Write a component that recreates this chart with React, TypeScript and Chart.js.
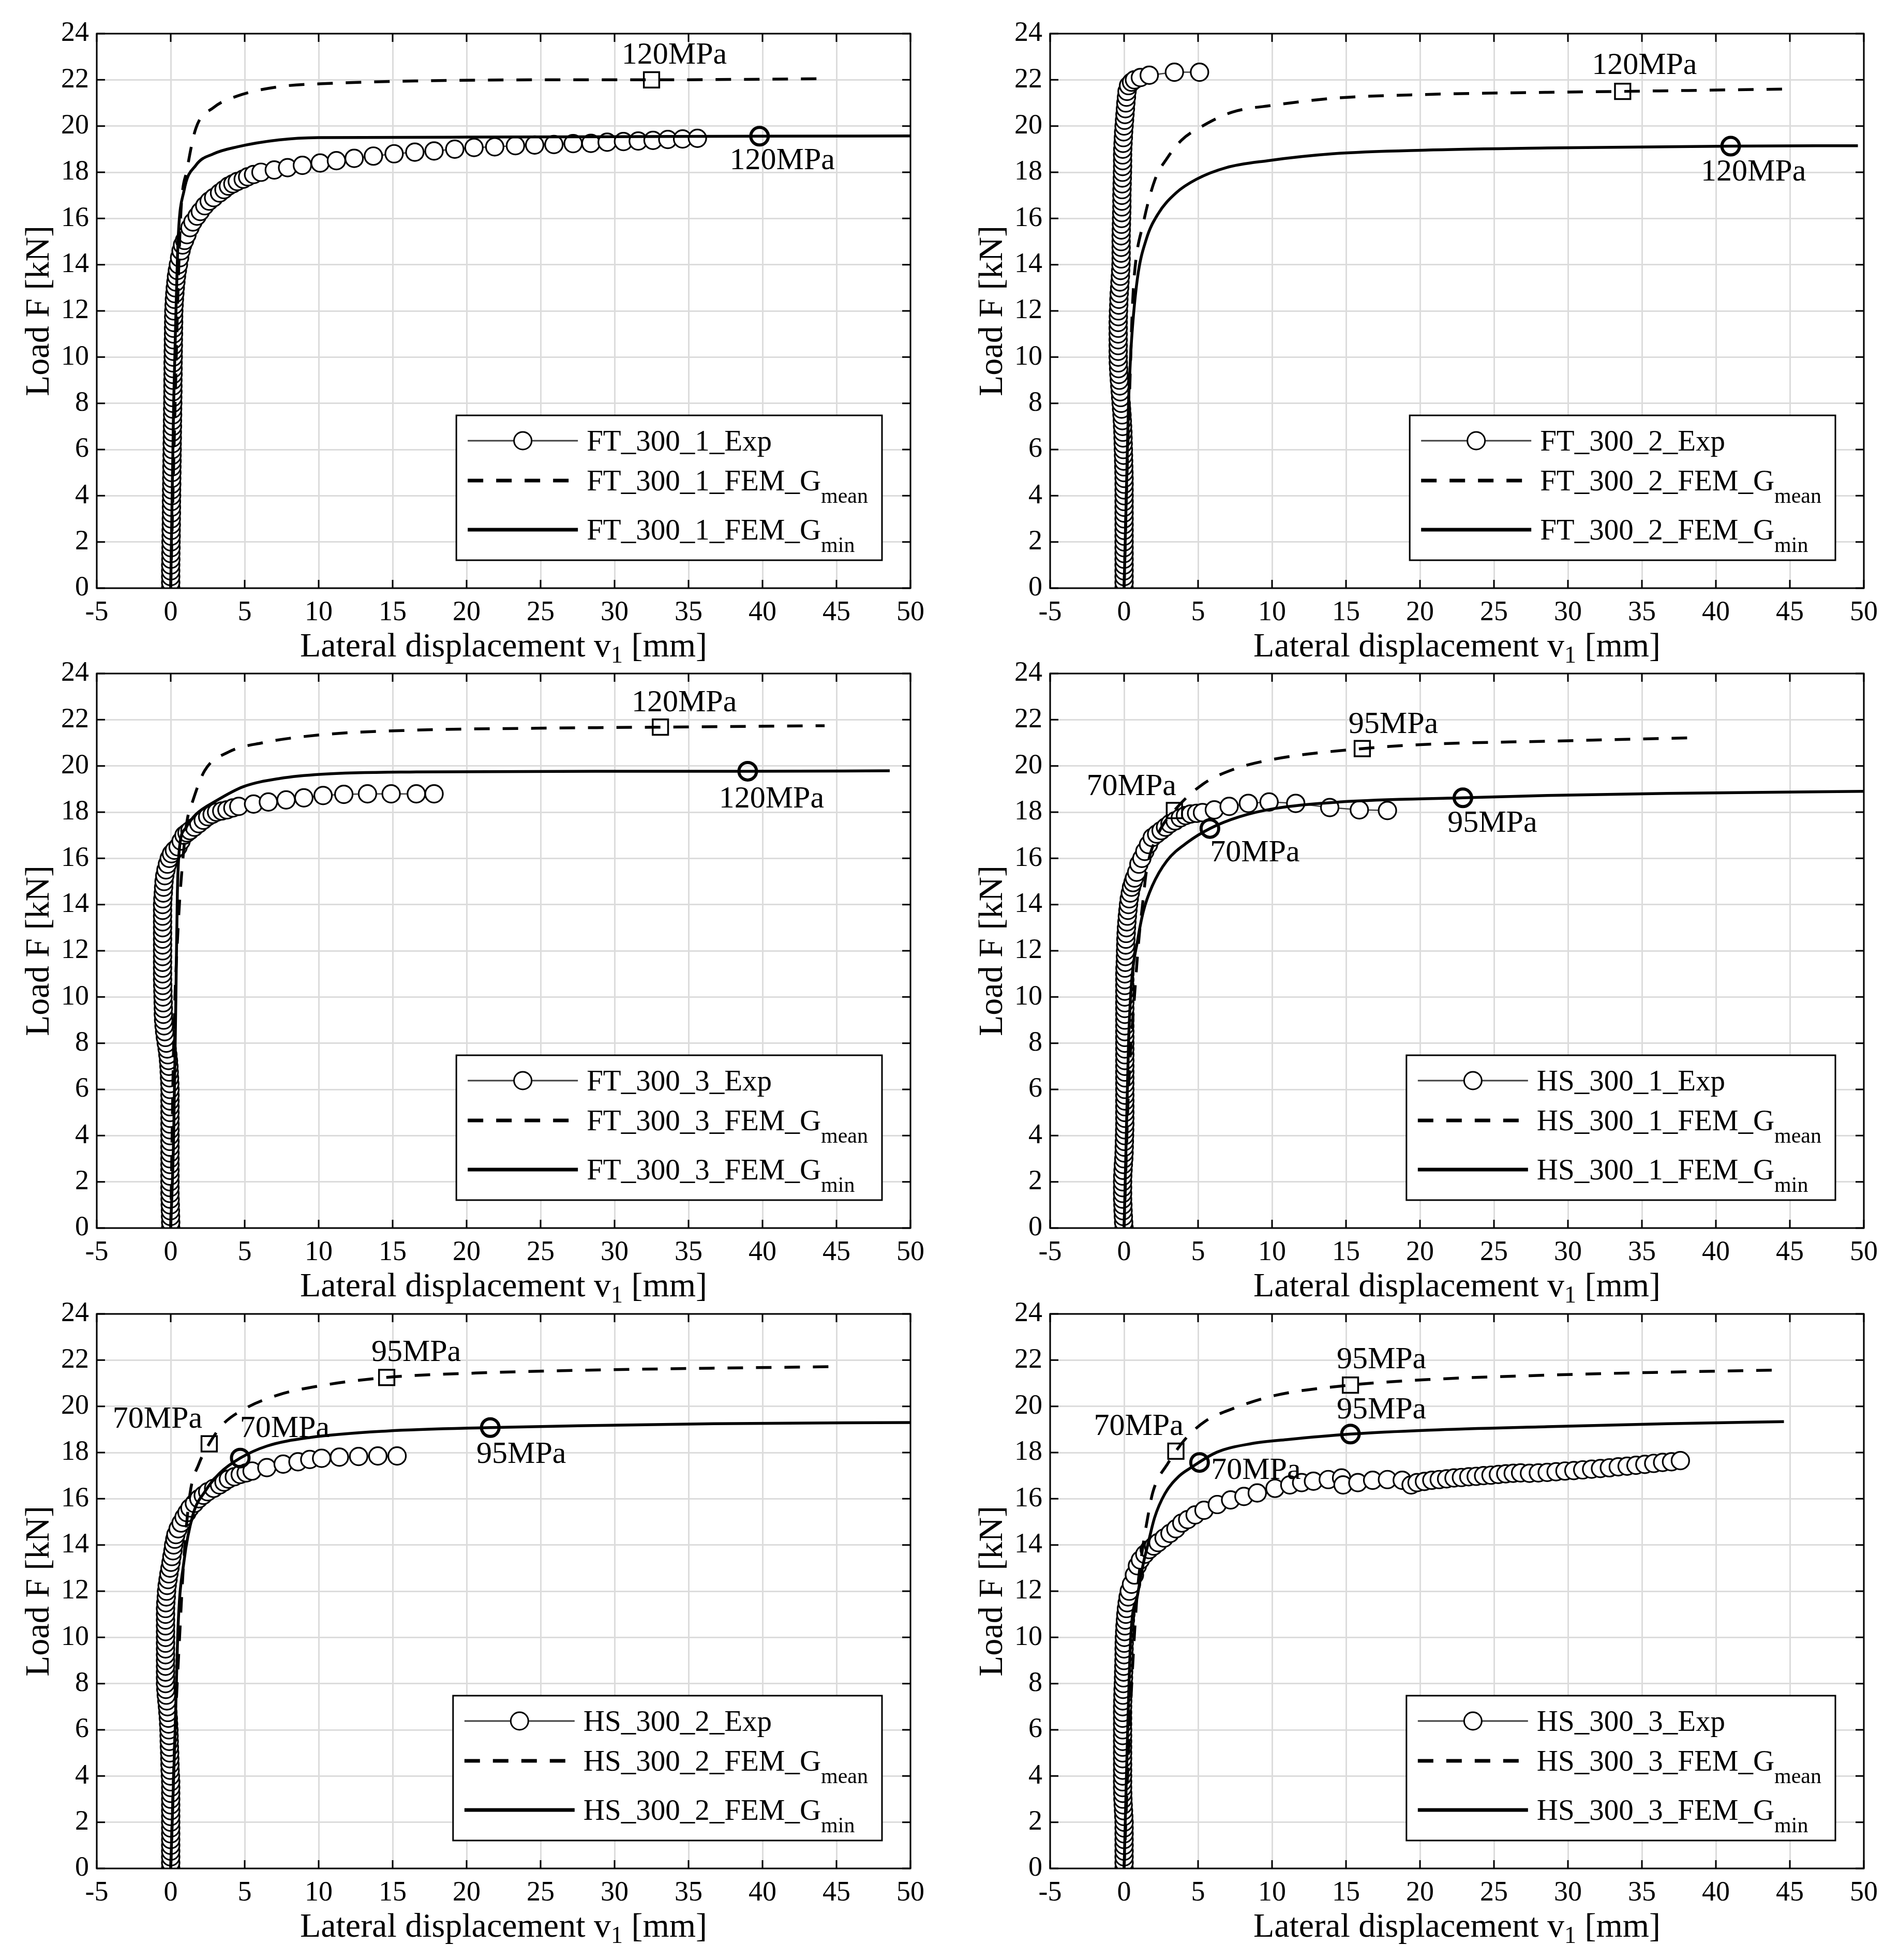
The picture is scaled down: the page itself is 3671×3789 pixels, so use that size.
import { useEffect, useRef } from 'react';
import { Chart, ChartConfiguration, Plugin, registerables } from 'chart.js';

Chart.register(...registerables);

type Pt = [number, number];

const SERIF = '"Liberation Serif", "Times New Roman", serif';

// axis ranges and tick spacing, shared by all six panels
const xRange: Pt = [-5, 50];
const yRange: Pt = [0, 24];
const xStep = 5;
const yStep = 2;

// ---------- FT_300_1 ----------
const ft1Exp: Pt[] = [
  [0, 0], [0, 0.25], [0, 0.5], [0, 0.75], [0, 1], [0.01, 1.25], [0.01, 1.5], [0.02, 1.75], [0.02, 2],
  [0.03, 2.25], [0.03, 2.5], [0.04, 2.75], [0.04, 3], [0.05, 3.25], [0.05, 3.5], [0.05, 3.75], [0.06, 4],
  [0.06, 4.25], [0.07, 4.5], [0.07, 4.75], [0.08, 5], [0.08, 5.25], [0.09, 5.5], [0.09, 5.75], [0.1, 6],
  [0.1, 6.25], [0.11, 6.5], [0.11, 6.75], [0.12, 7], [0.12, 7.25], [0.13, 7.5], [0.13, 7.75], [0.14, 8],
  [0.14, 8.25], [0.15, 8.5], [0.15, 8.75], [0.15, 9], [0.16, 9.25], [0.16, 9.5], [0.16, 9.75], [0.17, 10],
  [0.17, 10.25], [0.18, 10.5], [0.18, 10.75], [0.19, 11], [0.19, 11.25], [0.2, 11.5], [0.2, 11.75], [0.21, 12],
  [0.23, 12.25], [0.25, 12.5], [0.28, 12.75], [0.31, 13], [0.35, 13.25], [0.39, 13.5], [0.45, 13.75], [0.52, 14],
  [0.6, 14.3], [0.7, 14.6], [0.8, 14.85], [0.94, 15.05], [1.1, 15.3], [1.3, 15.6], [1.5, 15.85], [1.78, 16.1],
  [2.0, 16.3], [2.3, 16.55], [2.6, 16.75], [2.9, 16.9], [3.3, 17.1], [3.6, 17.25], [3.9, 17.4], [4.2, 17.5],
  [4.5, 17.6], [4.9, 17.7], [5.2, 17.8], [5.6, 17.9], [6.1, 18.0], [7.0, 18.1], [7.9, 18.2], [8.9, 18.3],
  [10.1, 18.4], [11.2, 18.5], [12.4, 18.6], [13.7, 18.7], [15.1, 18.8], [16.5, 18.87], [17.8, 18.92],
  [19.2, 19.0], [20.5, 19.07], [21.9, 19.1], [23.3, 19.15], [24.6, 19.18], [25.9, 19.2], [27.2, 19.24],
  [28.4, 19.25], [29.5, 19.3], [30.6, 19.33], [31.6, 19.35], [32.6, 19.38], [33.6, 19.42], [34.6, 19.44],
  [35.6, 19.47],
];
const ft1Mean: Pt[] = [
  [0, 0], [0.3, 8], [0.5, 13], [0.7, 16.4], [1.1, 18.1], [1.7, 19.9], [2.9, 20.8], [4.5, 21.3], [7.3, 21.7],
  [10.9, 21.85], [16.5, 21.95], [25, 22.0], [32.5, 22.0], [44.3, 22.05],
];
const ft1Min: Pt[] = [
  [0, 0], [0.2, 8], [0.4, 13], [0.5, 15.1], [0.9, 17.2], [1.7, 18.3], [2.9, 18.8], [4.5, 19.1], [7.3, 19.4],
  [10, 19.5], [20, 19.52], [30, 19.54], [39.8, 19.56], [50, 19.57],
];
const ft1MeanMarks: Pt[] = [[32.5, 22.0]];
const ft1MinMarks: Pt[] = [[39.8, 19.56]];

// ---------- FT_300_2 ----------
const ft2Exp: Pt[] = [
  [0, 0], [0, 0.25], [0, 0.5], [0, 0.75], [0, 1], [0, 1.25], [0, 1.5], [0, 1.75], [0, 2], [0, 2.25], [0, 2.5],
  [0, 2.75], [0, 3], [0, 3.25], [0, 3.5], [0, 3.75], [0, 4], [0, 4.25], [0, 4.5], [0, 4.75], [-0.01, 5],
  [-0.02, 5.25], [-0.03, 5.5], [-0.04, 5.75], [-0.05, 6], [-0.06, 6.25], [-0.07, 6.5], [-0.08, 6.75], [-0.1, 7],
  [-0.12, 7.25], [-0.14, 7.5], [-0.17, 7.75], [-0.2, 8], [-0.23, 8.25], [-0.26, 8.5], [-0.29, 8.75], [-0.32, 9],
  [-0.35, 9.25], [-0.37, 9.5], [-0.39, 9.75], [-0.4, 10], [-0.4, 10.25], [-0.4, 10.5], [-0.4, 10.75], [-0.4, 11],
  [-0.4, 11.25], [-0.4, 11.5], [-0.39, 11.75], [-0.38, 12], [-0.36, 12.25], [-0.35, 12.5], [-0.33, 12.75],
  [-0.3, 13], [-0.28, 13.25], [-0.25, 13.5], [-0.23, 13.75], [-0.21, 14], [-0.2, 14.25], [-0.2, 14.5],
  [-0.2, 14.75], [-0.2, 15], [-0.2, 15.25], [-0.19, 15.5], [-0.18, 15.75], [-0.17, 16], [-0.16, 16.25],
  [-0.15, 16.5], [-0.15, 16.75], [-0.15, 17], [-0.14, 17.25], [-0.13, 17.5], [-0.12, 17.75], [-0.11, 18],
  [-0.1, 18.25], [-0.1, 18.5], [-0.1, 18.75], [-0.09, 19], [-0.07, 19.25], [-0.05, 19.5], [-0.03, 19.75],
  [0, 20], [0.03, 20.25], [0.06, 20.5], [0.09, 20.75], [0.12, 21], [0.16, 21.25], [0.2, 21.5], [0.3, 21.75],
  [0.5, 21.9], [0.7, 22.0], [1.1, 22.1], [1.7, 22.2], [3.4, 22.33], [5.1, 22.33],
];
const ft2Mean: Pt[] = [
  [0, 0], [0.2, 5], [0.4, 9], [0.55, 12], [0.7, 13.6], [1.3, 15.8], [2.1, 17.7], [2.9, 18.6], [3.9, 19.4],
  [5.3, 20.0], [7.3, 20.6], [10.1, 20.9], [14.1, 21.2], [20.6, 21.37], [28.6, 21.46], [33.7, 21.5], [44.6, 21.6],
];
const ft2Min: Pt[] = [
  [0, 0], [0.15, 4], [0.3, 8], [0.4, 9.5], [0.5, 10.7], [0.9, 13.4], [1.5, 15.1], [2.3, 16.2], [3.5, 17.1],
  [4.9, 17.7], [6.9, 18.2], [9.7, 18.5], [14.1, 18.8], [20.6, 18.96], [28.6, 19.05], [41, 19.13], [49.6, 19.15],
];
const ft2MeanMarks: Pt[] = [[33.7, 21.5]];
const ft2MinMarks: Pt[] = [[41.0, 19.13]];

// ---------- FT_300_3 ----------
const ft3Exp: Pt[] = [
  [0, 0], [0, 0.25], [-0.01, 0.5], [-0.02, 0.75], [-0.03, 1], [-0.04, 1.25], [-0.05, 1.5], [-0.05, 1.75],
  [-0.05, 2], [-0.05, 2.25], [-0.05, 2.5], [-0.05, 2.75], [-0.05, 3], [-0.05, 3.25], [-0.05, 3.5], [-0.05, 3.75],
  [-0.05, 4], [-0.05, 4.25], [-0.05, 4.5], [-0.05, 4.75], [-0.05, 5], [-0.05, 5.25], [-0.05, 5.5], [-0.05, 5.75],
  [-0.05, 6], [-0.06, 6.25], [-0.08, 6.5], [-0.1, 6.75], [-0.12, 7], [-0.15, 7.25], [-0.19, 7.5], [-0.24, 7.75],
  [-0.3, 8], [-0.36, 8.25], [-0.41, 8.5], [-0.45, 8.75], [-0.48, 9], [-0.5, 9.25], [-0.5, 9.5], [-0.51, 9.75],
  [-0.52, 10], [-0.53, 10.25], [-0.54, 10.5], [-0.55, 10.75], [-0.55, 11], [-0.55, 11.25], [-0.55, 11.5],
  [-0.55, 11.75], [-0.55, 12], [-0.55, 12.25], [-0.55, 12.5], [-0.55, 12.75], [-0.55, 13], [-0.55, 13.25],
  [-0.55, 13.5], [-0.55, 13.75], [-0.55, 14], [-0.53, 14.25], [-0.5, 14.5], [-0.48, 14.75], [-0.45, 15],
  [-0.4, 15.25], [-0.32, 15.5], [-0.22, 15.75], [-0.1, 16], [0.05, 16.2], [0.25, 16.35], [0.5, 16.5],
  [0.7, 16.75], [0.9, 17.0], [1.1, 17.1], [1.3, 17.2], [1.6, 17.35], [1.9, 17.5], [2.2, 17.65], [2.5, 17.8],
  [2.8, 17.9], [3.1, 18.0], [3.45, 18.05], [3.8, 18.1], [4.2, 18.18], [4.6, 18.25], [5.6, 18.35], [6.6, 18.44],
  [7.8, 18.53], [9.0, 18.62], [10.3, 18.72], [11.7, 18.77], [13.3, 18.79], [14.9, 18.79], [16.6, 18.79],
  [17.8, 18.79],
];
const ft3Mean: Pt[] = [
  [0, 0], [0.2, 8], [0.5, 13], [0.8, 15.8], [1.1, 17.6], [1.5, 18.5], [2.3, 19.8], [3.9, 20.6], [6.2, 21.0],
  [10.2, 21.35], [16.6, 21.55], [24.7, 21.63], [33.1, 21.68], [44.2, 21.74],
];
const ft3Min: Pt[] = [
  [0, 0], [0.2, 4], [0.35, 10], [0.45, 14.5], [0.6, 16.5], [1.0, 17.3], [1.7, 17.9], [3.1, 18.5], [4.9, 19.1],
  [7.4, 19.46], [10.2, 19.64], [16.6, 19.74], [28.7, 19.77], [39, 19.77], [48.6, 19.79],
];
const ft3MeanMarks: Pt[] = [[33.1, 21.68]];
const ft3MinMarks: Pt[] = [[39.0, 19.77]];

// ---------- HS_300_1 ----------
const hs1Exp: Pt[] = [
  [0, 0], [-0.03, 0.25], [-0.05, 0.5], [-0.07, 0.75], [-0.08, 1], [-0.1, 1.25], [-0.1, 1.5], [-0.1, 1.75],
  [-0.1, 2], [-0.09, 2.25], [-0.07, 2.5], [-0.05, 2.75], [-0.02, 3], [0, 3.25], [0.01, 3.5], [0.02, 3.75],
  [0.03, 4], [0.04, 4.25], [0.05, 4.5], [0.05, 4.75], [0.05, 5], [0.05, 5.25], [0.05, 5.5], [0.05, 5.75],
  [0.05, 6], [0.05, 6.25], [0.05, 6.5], [0.05, 6.75], [0.05, 7], [0.05, 7.25], [0.05, 7.5], [0.05, 7.75],
  [0.05, 8], [0.05, 8.25], [0.05, 8.5], [0.05, 8.75], [0.05, 9], [0.05, 9.25], [0.05, 9.5], [0.05, 9.75],
  [0.05, 10], [0.05, 10.25], [0.05, 10.5], [0.05, 10.75], [0.05, 11], [0.06, 11.25], [0.08, 11.5],
  [0.09, 11.75], [0.1, 12], [0.11, 12.25], [0.12, 12.5], [0.14, 12.75], [0.16, 13], [0.19, 13.25],
  [0.22, 13.5], [0.26, 13.75], [0.3, 14], [0.35, 14.25], [0.42, 14.5], [0.5, 14.75], [0.6, 14.95],
  [0.7, 15.15], [0.85, 15.4], [1.0, 15.75], [1.2, 16.0], [1.4, 16.3], [1.65, 16.6], [1.9, 16.9], [2.2, 17.05],
  [2.5, 17.2], [2.8, 17.35], [3.1, 17.5], [3.45, 17.62], [3.8, 17.75], [4.15, 17.85], [4.5, 17.92],
  [4.9, 17.95], [5.3, 17.98], [6.1, 18.1], [7.1, 18.25], [8.4, 18.38], [9.8, 18.44], [11.6, 18.38],
  [13.9, 18.2], [15.9, 18.1], [17.8, 18.07],
];
const hs1Mean: Pt[] = [
  [0, 0], [0.3, 6], [0.7, 10], [1.0, 12.5], [1.3, 14.3], [1.5, 15.4], [2.3, 17.05], [3.4, 18.07], [5.3, 19.2],
  [7.3, 19.83], [10.2, 20.3], [16.1, 20.75], [20.6, 20.94], [28.6, 21.07], [38.6, 21.22],
];
const hs1Min: Pt[] = [
  [0, 0], [0.15, 4], [0.3, 8], [0.5, 10.6], [0.9, 12.4], [1.3, 13.7], [1.9, 14.8], [2.9, 15.9], [4.3, 16.7],
  [5.8, 17.29], [7.8, 17.8], [10.2, 18.16], [14.6, 18.44], [22.9, 18.62], [28.6, 18.72], [36.7, 18.81], [50, 18.9],
];
const hs1MeanMarks: Pt[] = [[3.4, 18.07], [16.1, 20.75]];
const hs1MinMarks: Pt[] = [[5.8, 17.29], [22.9, 18.62]];

// ---------- HS_300_2 ----------
const hs2Exp: Pt[] = [
  [0, 0], [0, 0.25], [0, 0.5], [0, 0.75], [0, 1], [0, 1.25], [0, 1.5], [0, 1.75], [0, 2], [0, 2.25], [0, 2.5],
  [0, 2.75], [0, 3], [0, 3.25], [0, 3.5], [0, 3.75], [-0.02, 4], [-0.04, 4.25], [-0.05, 4.5], [-0.06, 4.75],
  [-0.07, 5], [-0.09, 5.25], [-0.1, 5.5], [-0.11, 5.75], [-0.12, 6], [-0.14, 6.25], [-0.16, 6.5], [-0.19, 6.75],
  [-0.22, 7], [-0.26, 7.25], [-0.3, 7.5], [-0.33, 7.75], [-0.35, 8], [-0.35, 8.25], [-0.35, 8.5], [-0.35, 8.75],
  [-0.35, 9], [-0.35, 9.25], [-0.35, 9.5], [-0.35, 9.75], [-0.35, 10], [-0.35, 10.25], [-0.35, 10.5],
  [-0.35, 10.75], [-0.35, 11], [-0.35, 11.25], [-0.33, 11.5], [-0.3, 11.75], [-0.28, 12], [-0.24, 12.25],
  [-0.18, 12.5], [-0.12, 12.75], [-0.05, 13], [0.02, 13.25], [0.08, 13.5], [0.15, 13.75], [0.2, 14],
  [0.28, 14.25], [0.35, 14.45], [0.5, 14.7], [0.7, 14.95], [0.9, 15.2], [1.1, 15.4], [1.3, 15.6], [1.6, 15.8],
  [1.9, 16.0], [2.2, 16.15], [2.5, 16.3], [2.9, 16.45], [3.3, 16.6], [3.6, 16.72], [3.9, 16.85], [4.3, 16.95],
  [4.7, 17.05], [5.1, 17.12], [5.5, 17.2], [6.5, 17.35], [7.6, 17.5], [8.6, 17.6], [9.4, 17.7], [10.2, 17.75],
  [11.4, 17.8], [12.7, 17.83], [14.0, 17.85], [15.3, 17.85],
];
const hs2Mean: Pt[] = [
  [0, 0], [0.3, 6], [0.6, 10], [0.9, 13.5], [1.3, 16.2], [1.9, 17.5], [2.6, 18.38], [3.5, 19.2], [4.9, 19.86],
  [7.3, 20.5], [10.2, 20.9], [14.6, 21.25], [20.6, 21.44], [28.6, 21.57], [44.9, 21.72],
];
const hs2Min: Pt[] = [
  [0, 0], [0.3, 6], [0.5, 10.5], [0.9, 13.3], [1.5, 15.3], [2.3, 16.3], [3.3, 17.1], [4.7, 17.76], [6.5, 18.28],
  [9.4, 18.65], [14.6, 18.93], [21.6, 19.08], [28.6, 19.17], [36.7, 19.25], [50, 19.3],
];
const hs2MeanMarks: Pt[] = [[2.6, 18.38], [14.6, 21.25]];
const hs2MinMarks: Pt[] = [[4.7, 17.76], [21.6, 19.08]];

// ---------- HS_300_3 ----------
const hs3Exp: Pt[] = [
  [0, 0], [0, 0.25], [0, 0.5], [0, 0.75], [0, 1], [0, 1.25], [0, 1.5], [0, 1.75], [0, 2], [-0.02, 2.25],
  [-0.04, 2.5], [-0.06, 2.75], [-0.08, 3], [-0.09, 3.25], [-0.1, 3.5], [-0.1, 3.75], [-0.1, 4], [-0.1, 4.25],
  [-0.1, 4.5], [-0.1, 4.75], [-0.1, 5], [-0.1, 5.25], [-0.1, 5.5], [-0.1, 5.75], [-0.1, 6], [-0.1, 6.25],
  [-0.1, 6.5], [-0.1, 6.75], [-0.1, 7], [-0.09, 7.25], [-0.08, 7.5], [-0.07, 7.75], [-0.05, 8], [-0.04, 8.25],
  [-0.03, 8.5], [-0.02, 8.75], [-0.01, 9], [0, 9.25], [0, 9.5], [0.01, 9.75], [0.02, 10], [0.04, 10.25],
  [0.06, 10.5], [0.09, 10.75], [0.12, 11], [0.16, 11.25], [0.21, 11.5], [0.27, 11.75], [0.35, 12], [0.5, 12.3],
  [0.7, 12.7], [0.9, 13.1], [1.1, 13.35], [1.4, 13.6], [1.7, 13.8], [2.0, 13.95], [2.3, 14.1], [2.7, 14.3],
  [3.1, 14.5], [3.5, 14.7], [3.9, 14.95], [4.3, 15.1], [4.8, 15.3], [5.4, 15.5], [6.3, 15.75], [7.2, 15.95],
  [8.1, 16.1], [9.0, 16.25], [10.2, 16.45], [11.2, 16.6], [12.0, 16.7], [12.8, 16.76], [13.8, 16.83],
  [14.7, 16.9], [14.8, 16.6], [15.8, 16.7], [16.8, 16.8], [17.8, 16.83], [18.8, 16.8], [19.4, 16.6],
  [19.8, 16.7], [20.3, 16.75], [20.8, 16.8], [21.3, 16.83], [21.8, 16.86], [22.3, 16.9], [22.8, 16.92],
  [23.3, 16.95], [23.8, 16.97], [24.3, 17.0], [24.8, 17.02], [25.3, 17.05], [25.8, 17.08], [26.3, 17.1],
  [26.8, 17.12], [27.4, 17.1], [28.0, 17.12], [28.6, 17.14], [29.2, 17.17], [29.8, 17.2], [30.4, 17.22],
  [31.0, 17.25], [31.6, 17.28], [32.2, 17.31], [32.8, 17.34], [33.4, 17.38], [34.0, 17.41], [34.6, 17.45],
  [35.2, 17.49], [35.8, 17.53], [36.4, 17.57], [37.0, 17.6], [37.6, 17.65],
];
const hs3Mean: Pt[] = [
  [0, 0], [0.3, 5], [0.6, 9], [0.9, 12], [1.24, 13.8], [1.6, 15.2], [1.95, 16.3], [3.0, 17.57], [3.5, 18.06],
  [4.3, 18.7], [5.5, 19.36], [7.35, 19.9], [10.2, 20.47], [15.3, 20.92], [20.6, 21.16], [28.6, 21.35],
  [36.7, 21.48], [44.3, 21.57],
];
const hs3Min: Pt[] = [
  [0, 0], [0.2, 5], [0.45, 10], [0.9, 11.8], [1.3, 13.2], [1.6, 14.0], [2.06, 15.18], [2.76, 16.22],
  [3.7, 16.97], [4.53, 17.35], [6.29, 18.02], [8.65, 18.39], [11, 18.56], [15.3, 18.8], [20.6, 18.97],
  [28.6, 19.12], [36.7, 19.25], [44.6, 19.34],
];
const hs3MeanMarks: Pt[] = [[3.5, 18.06], [15.3, 20.92]];
const hs3MinMarks: Pt[] = [[5.1, 17.57], [15.3, 18.8]];

type Panel = {
  name: string;
  exp: Pt[];
  mean: Pt[];
  min: Pt[];
  meanMarks: Pt[];
  minMarks: Pt[];
  meanTags: string[];
  minTags: string[];
};

const panels: Panel[] = [
  { name: 'FT_300_1', exp: ft1Exp, mean: ft1Mean, min: ft1Min, meanMarks: ft1MeanMarks, minMarks: ft1MinMarks, meanTags: ['120MPa'], minTags: ['120MPa'] },
  { name: 'FT_300_2', exp: ft2Exp, mean: ft2Mean, min: ft2Min, meanMarks: ft2MeanMarks, minMarks: ft2MinMarks, meanTags: ['120MPa'], minTags: ['120MPa'] },
  { name: 'FT_300_3', exp: ft3Exp, mean: ft3Mean, min: ft3Min, meanMarks: ft3MeanMarks, minMarks: ft3MinMarks, meanTags: ['120MPa'], minTags: ['120MPa'] },
  { name: 'HS_300_1', exp: hs1Exp, mean: hs1Mean, min: hs1Min, meanMarks: hs1MeanMarks, minMarks: hs1MinMarks, meanTags: ['70MPa', '95MPa'], minTags: ['70MPa', '95MPa'] },
  { name: 'HS_300_2', exp: hs2Exp, mean: hs2Mean, min: hs2Min, meanMarks: hs2MeanMarks, minMarks: hs2MinMarks, meanTags: ['70MPa', '95MPa'], minTags: ['70MPa', '95MPa'] },
  { name: 'HS_300_3', exp: hs3Exp, mean: hs3Mean, min: hs3Min, meanMarks: hs3MeanMarks, minMarks: hs3MinMarks, meanTags: ['70MPa', '95MPa'], minTags: ['70MPa', '95MPa'] },
];

// layout only: pixel offsets of each stress tag's centre from its marker
const meanTagOffsets: Pt[][] = [
  [[44, -47]], [[42, -49]], [[46, -46]],
  [[-83, -46], [60, -46]], [[-100, -47], [57, -48]], [[-72, -47], [60, -48]],
];
const minTagOffsets: Pt[][] = [
  [[44, 48]], [[44, 51]], [[46, 54]],
  [[87, 48], [57, 50]], [[86, -56], [60, 52]], [[109, 16], [60, -46]],
];

const CANVAS_W = 1828;
const CANVAS_H = 1290;
const COL_LEFT = [0, 1843];
const ROW_TOP = [0, 1237, 2475];
const PLOT_LEFT = 187;
const PLOT_TOP = 65;
const PLOT_RIGHT_PAD = 68;
const X_AXIS_H = 153;
const DASH = [30, 25];

const toXY = (pts: Pt[]) => pts.map(([x, y]) => ({ x, y }));

function drawLegend(ctx: CanvasRenderingContext2D, area: { right: number; bottom: number }, name: string) {
  const rows = [
    { main: `${name}_Exp`, sub: '' },
    { main: `${name}_FEM_G`, sub: 'mean' },
    { main: `${name}_FEM_G`, sub: 'min' },
  ];
  const mainFont = `57px ${SERIF}`;
  const subFont = `42px ${SERIF}`;
  let textW = 0;
  rows.forEach((r) => {
    ctx.font = mainFont;
    let w = ctx.measureText(r.main).width;
    ctx.font = subFont;
    w += ctx.measureText(r.sub).width;
    textW = Math.max(textW, w);
  });
  const boxW = 252 + textW + 27;
  const boxH = 280;
  const left = area.right - 55 - boxW;
  const top = area.bottom - 54 - boxH;

  ctx.fillStyle = '#fff';
  ctx.fillRect(left, top, boxW, boxH);
  ctx.setLineDash([]);
  ctx.strokeStyle = '#000';
  ctx.lineWidth = 3;
  ctx.strokeRect(left, top, boxW, boxH);

  const rowY = [top + 49, top + 126, top + 221];
  const x0 = left + 22;
  const x1 = left + 235;

  ctx.strokeStyle = '#404040';
  ctx.lineWidth = 3;
  ctx.beginPath();
  ctx.moveTo(x0, rowY[0]);
  ctx.lineTo(x1, rowY[0]);
  ctx.stroke();
  ctx.strokeStyle = '#000';
  ctx.lineWidth = 3;
  ctx.fillStyle = '#fff';
  ctx.beginPath();
  ctx.arc((x0 + x1) / 2, rowY[0], 17, 0, Math.PI * 2);
  ctx.fill();
  ctx.stroke();

  ctx.lineWidth = 7;
  ctx.setLineDash(DASH);
  ctx.beginPath();
  ctx.moveTo(x0, rowY[1]);
  ctx.lineTo(x1, rowY[1]);
  ctx.stroke();
  ctx.setLineDash([]);
  ctx.beginPath();
  ctx.moveTo(x0, rowY[2]);
  ctx.lineTo(x1, rowY[2]);
  ctx.stroke();

  ctx.fillStyle = '#000';
  ctx.textAlign = 'left';
  ctx.textBaseline = 'alphabetic';
  rows.forEach((r, i) => {
    const bx = left + 252;
    const by = rowY[i] + 19;
    ctx.font = mainFont;
    ctx.fillText(r.main, bx, by);
    if (r.sub) {
      const w = ctx.measureText(r.main).width;
      ctx.font = subFont;
      ctx.fillText(r.sub, bx + w, by + 24);
    }
  });
}

function framePlugin(panel: Panel, index: number): Plugin<'line'> {
  return {
    id: 'matlabFrame',
    afterDatasetsDraw(chart) {
      const { ctx, chartArea: a } = chart;
      const xs = chart.scales.x;
      const ys = chart.scales.y;
      ctx.save();

      // stress tags next to the markers
      ctx.fillStyle = '#000';
      ctx.font = `60px ${SERIF}`;
      ctx.textAlign = 'center';
      ctx.textBaseline = 'middle';
      panel.meanMarks.forEach((p, i) => {
        const [dx, dy] = meanTagOffsets[index][i];
        ctx.fillText(panel.meanTags[i], xs.getPixelForValue(p[0]) + dx, ys.getPixelForValue(p[1]) + dy);
      });
      panel.minMarks.forEach((p, i) => {
        const [dx, dy] = minTagOffsets[index][i];
        ctx.fillText(panel.minTags[i], xs.getPixelForValue(p[0]) + dx, ys.getPixelForValue(p[1]) + dy);
      });

      // box with inward ticks on all four sides
      ctx.strokeStyle = '#000';
      ctx.lineWidth = 3;
      ctx.setLineDash([]);
      ctx.strokeRect(a.left, a.top, a.right - a.left, a.bottom - a.top);
      const tl = 16;
      ctx.beginPath();
      xs.ticks.forEach((t) => {
        const px = xs.getPixelForValue(t.value);
        ctx.moveTo(px, a.bottom);
        ctx.lineTo(px, a.bottom - tl);
        ctx.moveTo(px, a.top);
        ctx.lineTo(px, a.top + tl);
      });
      ys.ticks.forEach((t) => {
        const py = ys.getPixelForValue(t.value);
        ctx.moveTo(a.left, py);
        ctx.lineTo(a.left + tl, py);
        ctx.moveTo(a.right, py);
        ctx.lineTo(a.right - tl, py);
      });
      ctx.stroke();

      drawLegend(ctx, a, panel.name);

      // axis titles
      ctx.fillStyle = '#000';
      ctx.textBaseline = 'alphabetic';
      ctx.textAlign = 'left';
      const mainFont = `66px ${SERIF}`;
      const subFont = `46px ${SERIF}`;
      const p1 = 'Lateral displacement v';
      const p3 = ' [mm]';
      ctx.font = mainFont;
      const w1 = ctx.measureText(p1).width;
      const w3 = ctx.measureText(p3).width;
      ctx.font = subFont;
      const w2 = ctx.measureText('1').width;
      const sx = (a.left + a.right) / 2 - (w1 + w2 + w3) / 2;
      const by = a.bottom + 132;
      ctx.font = mainFont;
      ctx.fillText(p1, sx, by);
      ctx.fillText(p3, sx + w1 + w2, by);
      ctx.font = subFont;
      ctx.fillText('1', sx + w1, by + 12);

      ctx.translate(a.left - 93, (a.top + a.bottom) / 2);
      ctx.rotate(-Math.PI / 2);
      ctx.textAlign = 'center';
      ctx.font = mainFont;
      ctx.fillText('Load F [kN]', 0, 0);

      ctx.restore();
    },
  };
}

function buildConfig(panel: Panel, index: number): ChartConfiguration<'line'> {
  const tickFont = { family: SERIF, size: 54 };
  const grid = { color: '#dcdcdc', lineWidth: 3, drawTicks: false };
  return {
    type: 'line',
    data: {
      datasets: [
        {
          label: `${panel.name}_Exp`,
          data: toXY(panel.exp),
          order: 4,
          borderColor: '#404040',
          borderWidth: 2.5,
          pointStyle: 'circle',
          pointRadius: 17,
          pointBorderWidth: 3.2,
          pointBorderColor: '#000',
          pointBackgroundColor: '#fff',
        },
        {
          label: `${panel.name}_FEM_Gmean`,
          data: toXY(panel.mean),
          order: 3,
          borderColor: '#000',
          borderWidth: 5.5,
          borderDash: DASH,
          pointRadius: 0,
          cubicInterpolationMode: 'monotone',
        },
        {
          label: `${panel.name}_FEM_Gmin`,
          data: toXY(panel.min),
          order: 2,
          borderColor: '#000',
          borderWidth: 5.5,
          pointRadius: 0,
          cubicInterpolationMode: 'monotone',
        },
        {
          label: 'Gmean stress marks',
          data: toXY(panel.meanMarks),
          order: 1,
          showLine: false,
          borderColor: '#000',
          pointStyle: 'rect',
          pointRadius: 21,
          pointBorderWidth: 3.5,
          pointBorderColor: '#000',
          pointBackgroundColor: 'rgba(0,0,0,0)',
        },
        {
          label: 'Gmin stress marks',
          data: toXY(panel.minMarks),
          order: 0,
          showLine: false,
          borderColor: '#000',
          pointStyle: 'circle',
          pointRadius: 17,
          pointBorderWidth: 6,
          pointBorderColor: '#000',
          pointBackgroundColor: 'rgba(0,0,0,0)',
        },
      ],
    },
    options: {
      responsive: false,
      devicePixelRatio: 1,
      animation: false,
      events: [],
      layout: {
        autoPadding: false,
        padding: { left: 0, top: PLOT_TOP, right: PLOT_RIGHT_PAD, bottom: 0 },
      },
      plugins: { legend: { display: false }, tooltip: { enabled: false } },
      scales: {
        x: {
          type: 'linear',
          min: xRange[0],
          max: xRange[1],
          ticks: { stepSize: xStep, font: tickFont, color: '#000', padding: 15, maxRotation: 0, autoSkip: false },
          grid,
          border: { display: false },
          afterFit: (s) => {
            s.height = X_AXIS_H;
          },
        },
        y: {
          type: 'linear',
          min: yRange[0],
          max: yRange[1],
          ticks: { stepSize: yStep, font: tickFont, color: '#000', padding: 15, autoSkip: false },
          grid,
          border: { display: false },
          afterFit: (s) => {
            s.width = PLOT_LEFT;
          },
        },
      },
    },
    plugins: [framePlugin(panel, index)],
  };
}

function LoadPanel({ panel, index }: { panel: Panel; index: number }) {
  const canvasRef = useRef<HTMLCanvasElement | null>(null);

  useEffect(() => {
    const canvas = canvasRef.current;
    if (!canvas) {
      return undefined;
    }
    const chart = new Chart(canvas, buildConfig(panel, index));
    return () => {
      chart.destroy();
    };
  }, [panel, index]);

  return (
    <canvas
      ref={canvasRef}
      width={CANVAS_W}
      height={CANVAS_H}
      style={{
        position: 'absolute',
        left: COL_LEFT[index % 2],
        top: ROW_TOP[Math.floor(index / 2)],
        width: CANVAS_W,
        height: CANVAS_H,
      }}
    />
  );
}

export default function App() {
  return (
    <div style={{ position: 'absolute', left: 0, top: 0, width: 3671, height: 3789, background: '#fff' }}>
      {panels.map((p, i) => (
        <LoadPanel key={p.name} panel={p} index={i} />
      ))}
    </div>
  );
}
